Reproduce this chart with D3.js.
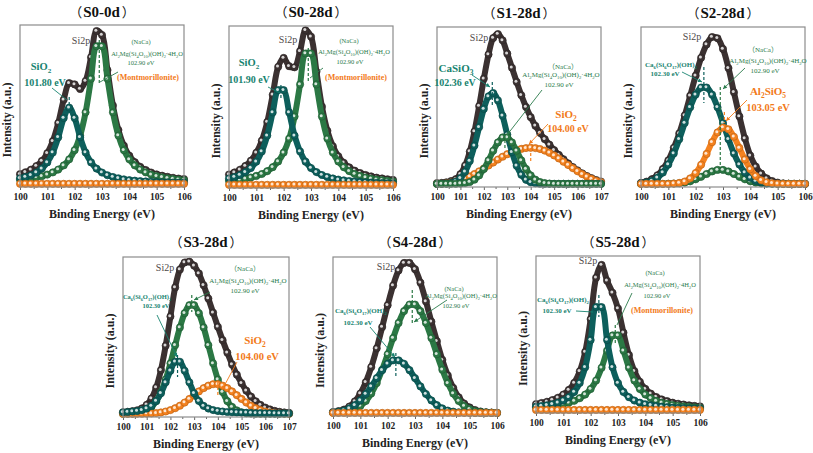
<!DOCTYPE html>
<html><head><meta charset="utf-8">
<script src="https://cdn.jsdelivr.net/npm/d3@7/dist/d3.min.js"></script>
<style>body{margin:0;background:#fff}svg{display:block}</style>
</head><body>
<svg id="c" width="813" height="453"></svg>
<script>
// ---------------- data ----------------
const energy6 = [100,100.2,100.4,100.6,100.8,101,101.2,101.4,101.6,101.8,102,102.2,102.4,102.6,102.8,103,103.2,103.4,103.6,103.8,104,104.2,104.4,104.6,104.8,105,105.2,105.4,105.6,105.8,106];
const energy7 = [100,100.2,100.4,100.6,100.8,101,101.2,101.4,101.6,101.8,102,102.2,102.4,102.6,102.8,103,103.2,103.4,103.6,103.8,104,104.2,104.4,104.6,104.8,105,105.2,105.4,105.6,105.8,106,106.2,106.4,106.6,106.8,107];
const ticks6 = [100,101,102,103,104,105,106];
const ticks7 = [100,101,102,103,104,105,106,107];
const panelNames = ['S0-0d','S0-28d','S1-28d','S2-28d','S3-28d','S4-28d','S5-28d'];

// S0-0d
const s00_env  = [0.061,0.073,0.089,0.112,0.144,0.193,0.269,0.383,0.530,0.634,0.626,0.597,0.647,0.797,0.962,0.937,0.716,0.493,0.339,0.240,0.177,0.136,0.107,0.087,0.071,0.059,0.051,0.044,0.038,0.033,0.030];
const s00_sio2 = [0.035,0.043,0.054,0.071,0.096,0.135,0.197,0.293,0.414,0.480,0.414,0.293,0.197,0.135,0.096,0.071,0.054,0.043,0.035,0.028,0.023,0.020,0.017,0.015,0.013,0.011,0.010,0.009,0.008,0.007,0.007];
const s00_mont = [0.026,0.030,0.035,0.041,0.048,0.058,0.072,0.090,0.116,0.154,0.212,0.304,0.450,0.662,0.866,0.866,0.662,0.450,0.304,0.212,0.154,0.116,0.090,0.072,0.058,0.048,0.041,0.035,0.030,0.026,0.023];
const s00_bg   = [0,0,0,0,0,0,0,0,0,0,0,0,0,0,0,0,0,0,0,0,0,0,0,0,0,0,0,0,0,0,0];
// S0-28d
const s028_env  = [0.065,0.078,0.095,0.119,0.152,0.202,0.278,0.396,0.567,0.743,0.799,0.747,0.740,0.842,0.973,0.933,0.712,0.492,0.340,0.243,0.180,0.139,0.110,0.089,0.074,0.062,0.053,0.045,0.040,0.035,0.031];
const s028_sio2 = [0.040,0.049,0.062,0.080,0.106,0.146,0.210,0.310,0.456,0.596,0.596,0.456,0.310,0.210,0.146,0.106,0.080,0.062,0.049,0.040,0.033,0.028,0.024,0.021,0.018,0.016,0.014,0.012,0.011,0.010,0.009];
const s028_mont = [0.025,0.029,0.033,0.039,0.046,0.056,0.068,0.086,0.111,0.147,0.203,0.291,0.430,0.632,0.827,0.827,0.632,0.430,0.291,0.203,0.147,0.111,0.086,0.068,0.056,0.046,0.039,0.033,0.029,0.025,0.022];
const s028_bg   = [0,0,0,0,0,0,0,0,0,0,0,0,0,0,0,0,0,0,0,0,0,0,0,0,0,0,0,0,0,0,0];
// S1-28d
const s1_env    = [0.005,0.006,0.010,0.018,0.030,0.062,0.117,0.206,0.334,0.496,0.671,0.825,0.930,0.955,0.915,0.830,0.740,0.650,0.565,0.490,0.425,0.370,0.325,0.285,0.250,0.215,0.185,0.157,0.130,0.107,0.086,0.067,0.050,0.036,0.024,0.015];
const s1_casio3 = [0,0,0.002,0.006,0.015,0.036,0.077,0.146,0.244,0.362,0.478,0.558,0.579,0.532,0.434,0.314,0.202,0.115,0.058,0.026,0.010,0.004,0.001,0,0,0,0,0,0,0,0,0,0,0,0,0];
const s1_mont   = [0,0,0,0,0,0.002,0.005,0.012,0.027,0.054,0.095,0.150,0.211,0.264,0.296,0.296,0.264,0.211,0.150,0.095,0.054,0.027,0.012,0.005,0.002,0,0,0,0,0,0,0,0,0,0,0];
const s1_sio2   = [0,0,0.003,0.008,0.015,0.024,0.035,0.048,0.063,0.080,0.098,0.117,0.136,0.155,0.173,0.189,0.203,0.215,0.223,0.228,0.230,0.228,0.222,0.212,0.198,0.181,0.162,0.141,0.120,0.100,0.080,0.062,0.046,0.032,0.020,0.011];
// S2-28d
const s2_env    = [0.006,0.014,0.030,0.055,0.095,0.150,0.230,0.322,0.436,0.562,0.690,0.804,0.889,0.936,0.928,0.860,0.738,0.584,0.430,0.290,0.180,0.110,0.065,0.035,0.018,0.008,0.003,0.001,0,0,0];
const s2_csh    = [0.004,0.009,0.019,0.039,0.072,0.123,0.194,0.285,0.388,0.488,0.569,0.614,0.614,0.569,0.488,0.388,0.285,0.194,0.123,0.072,0.039,0.019,0.009,0.004,0.002,0.001,0,0,0,0,0];
const s2_mont   = [0,0,0,0,0,0.001,0.002,0.004,0.008,0.016,0.029,0.045,0.063,0.079,0.089,0.089,0.079,0.063,0.045,0.029,0.016,0.008,0.004,0.002,0.001,0,0,0,0,0,0];
const s2_al2sio5= [0,0,0,0,0,0,0.002,0.006,0.015,0.035,0.069,0.122,0.191,0.266,0.328,0.359,0.348,0.300,0.229,0.155,0.093,0.050,0.023,0.010,0.004,0.001,0,0,0,0,0];
// S3-28d
const s3_env    = [0.010,0.013,0.017,0.023,0.035,0.058,0.098,0.168,0.279,0.435,0.621,0.806,0.920,0.965,0.970,0.945,0.895,0.820,0.735,0.645,0.555,0.470,0.390,0.315,0.250,0.195,0.148,0.110,0.080,0.057,0.040,0.028,0.019,0.013,0.009,0.007];
const s3_csh    = [0.010,0.012,0.015,0.018,0.024,0.034,0.051,0.082,0.131,0.201,0.275,0.332,0.332,0.275,0.201,0.131,0.082,0.051,0.034,0.024,0.018,0.015,0.012,0.010,0.009,0.008,0.007,0.006,0.005,0.005,0.004,0.004,0.003,0.003,0.003,0.003];
const s3_mont   = [0,0.001,0.002,0.004,0.010,0.022,0.044,0.081,0.139,0.219,0.322,0.438,0.551,0.642,0.693,0.693,0.642,0.551,0.438,0.322,0.219,0.139,0.081,0.044,0.022,0.010,0.004,0.002,0.001,0,0,0,0,0,0,0];
const s3_sio2   = [0,0,0,0.001,0.001,0.002,0.003,0.005,0.009,0.015,0.024,0.036,0.052,0.072,0.095,0.119,0.143,0.164,0.180,0.189,0.189,0.180,0.164,0.143,0.119,0.095,0.072,0.052,0.036,0.024,0.015,0.009,0.005,0.003,0.002,0.001];
// S4-28d
const s4_env    = [0.005,0.011,0.021,0.041,0.074,0.124,0.197,0.294,0.414,0.551,0.691,0.817,0.914,0.962,0.962,0.922,0.835,0.715,0.585,0.460,0.340,0.240,0.160,0.100,0.060,0.035,0.018,0.009,0.004,0.002,0];
const s4_csh    = [0.004,0.008,0.015,0.029,0.050,0.080,0.121,0.170,0.223,0.274,0.315,0.337,0.337,0.315,0.274,0.223,0.170,0.121,0.080,0.050,0.029,0.015,0.008,0.004,0.002,0.001,0,0,0,0,0];
const s4_mont   = [0.001,0.003,0.006,0.012,0.024,0.044,0.076,0.124,0.191,0.277,0.376,0.480,0.577,0.653,0.695,0.695,0.653,0.577,0.480,0.376,0.277,0.191,0.124,0.076,0.044,0.024,0.012,0.006,0.003,0.001,0];
const s4_bg     = [0,0,0,0,0,0,0,0,0,0,0,0,0,0,0,0,0,0,0,0,0,0,0,0,0,0,0,0,0,0,0];
// S5-28d
const s5_env    = [0.038,0.045,0.053,0.064,0.079,0.100,0.130,0.176,0.251,0.377,0.590,0.859,0.942,0.839,0.761,0.659,0.502,0.357,0.252,0.183,0.137,0.106,0.084,0.068,0.057,0.047,0.040,0.035,0.030,0.026,0.023];
const s5_csh    = [0.021,0.025,0.030,0.037,0.047,0.061,0.083,0.117,0.175,0.277,0.454,0.668,0.668,0.454,0.277,0.175,0.117,0.083,0.061,0.047,0.037,0.030,0.025,0.021,0.018,0.015,0.013,0.012,0.010,0.009,0.008];
const s5_mont   = [0.017,0.020,0.023,0.027,0.032,0.039,0.047,0.059,0.076,0.100,0.136,0.191,0.274,0.385,0.484,0.484,0.385,0.274,0.191,0.136,0.100,0.076,0.059,0.047,0.039,0.032,0.027,0.023,0.020,0.017,0.015];
const s5_bg     = [0,0,0,0,0,0,0,0,0,0,0,0,0,0,0,0,0,0,0,0,0,0,0,0,0,0,0,0,0,0,0];

// ---------------- styles ----------------
const COL = {env:'#3b3131', teal:'#0d5f5c', green:'#2b7844', orange:'#f5821f'};
const TXT = {teal:'#17836f', green:'#2a7b4b', orange:'#f27a1a', gray:'#4d4747'};
const SERIF = "'Liberation Serif','Times New Roman',serif";
const FORMULA = 'Al_{2}Mg(Si_{4}O_{10})(OH)_{2}·4H_{2}O';
const CSH = 'Ca_{6}(Si_{6}O_{17})(OH)_{2}';

const panels = [
 {name:panelNames[0], e:energy6, ticks:ticks6, left:20, top:25, w:164, h:162, titleY:17,
  series:[[s00_env,'env'],[s00_mont,'green'],[s00_sio2,'teal'],[s00_bg,'orange']],
  labels:[['Si2p',61,19,10,'gray',0],['(NaCa)',121,19,6.5,'green',0],[FORMULA,127,31,6.5,'green',0],['102.90 eV',121,40,6.5,'green',0],
          ['(Montmorillonite)',128,55,8,'orange',1],['SiO_{2}',21,45,10.5,'teal',1],['101.80 eV',25,61,10,'teal',1]],
  leaders:[[32,63,47,75,'teal',0],[98,47,80,57,'green',0]],
  dashes:[[101.8,72,82,'teal'],[102.9,15,60,'green']]},
 {name:panelNames[1], e:energy6, ticks:ticks6, left:229, top:26, w:164, h:162, titleY:17,
  series:[[s028_env,'env'],[s028_mont,'green'],[s028_sio2,'teal'],[s028_bg,'orange']],
  labels:[['Si2p',59,17,10,'gray',0],['(NaCa)',120,17,6.5,'green',0],[FORMULA,125,28,6.5,'green',0],['102.90 eV',121,38,6.5,'green',0],
          ['(Montmorillonite)',127,54,8,'orange',1],['SiO_{2}',20,40,10.5,'teal',1],['101.90 eV',20,57,10,'teal',1]],
  leaders:[[39,61,51,67,'teal',0],[94,42,81,52,'green',0]],
  dashes:[[101.9,59,74,'teal'],[102.9,22,57,'green']]},
 {name:panelNames[2], e:energy7, ticks:ticks7, left:437, top:27, w:164, h:160, titleY:18,
  series:[[s1_env,'env'],[s1_sio2,'orange'],[s1_casio3,'teal'],[s1_mont,'green']],
  labels:[['Si2p',42,14,10,'gray',0],['CaSiO_{3}',19,45,11,'teal',1],['102.36 eV',18,59,10,'teal',1],
          ['（NaCa）',126,42,7,'green',0],[FORMULA,124,50,7,'green',0],['102.90 eV',122,60,7,'green',0],
          ['SiO_{2}',129,91,11,'orange',1],['104.00 eV',131,105,10,'orange',1]],
  leaders:[[35,48,53,60,'teal',1],[105,63,70,108,'green',1],[111,97,92,117,'orange',1]],
  dashes:[[102.36,55,80,'teal'],[102.9,108,121,'green'],[104,121,136,'orange']]},
 {name:panelNames[3], e:energy6, ticks:ticks6, left:641, top:27, w:164, h:160, titleY:18,
  series:[[s2_env,'env'],[s2_mont,'green'],[s2_csh,'teal'],[s2_al2sio5,'orange']],
  labels:[['Si2p',51,13,10,'gray',0],[CSH,30,40,7,'teal',1],['102.30 eV',24,49,7,'teal',1],
          ['（NaCa）',122,25,7,'green',0],[FORMULA,127,36,7,'green',0],['102.90 eV',124,46,7,'green',0],
          ['Al_{2}SiO_{5}',127,68,11,'orange',1],['103.05 eV',127,84,10.5,'orange',1]],
  leaders:[[41,45,61,55,'teal',1],[104,41,82,62,'green',1],[106,73,85,94,'orange',1]],
  dashes:[[102.3,40,76,'teal'],[102.9,60,140,'green'],[103.05,85,96,'orange']]},
 {name:panelNames[4], e:energy7, ticks:ticks7, left:123, top:257, w:166, h:160, titleY:247,
  series:[[s3_env,'env'],[s3_mont,'green'],[s3_sio2,'orange'],[s3_csh,'teal']],
  labels:[['Si2p',42,14,10,'gray',0],['（NaCa）',122,14,7,'green',0],[FORMULA,125,26,7,'green',0],['102.90 eV',122,36,7,'green',0],
          [CSH,24,42,6.5,'teal',1],['102.30 eV',33,51,6.5,'teal',1],
          ['SiO_{2}',132,87,11,'orange',1],['104.00 eV',134,103,10.5,'orange',1]],
  leaders:[[87,35,71,43,'green',1],[34,58,54,100,'teal',1],[114,105,99,133,'orange',1]],
  dashes:[[102.9,38,55,'green'],[102.3,98,120,'teal'],[104,125,140,'orange']]},
 {name:panelNames[5], e:energy6, ticks:ticks6, left:333, top:257, w:164, h:159, titleY:247,
  series:[[s4_env,'env'],[s4_mont,'green'],[s4_csh,'teal'],[s4_bg,'orange']],
  labels:[['Si2p',53,13,10,'gray',0],['(NaCa)',121,34,6.5,'green',0],[FORMULA,128,41,6.5,'green',0],['102.90 eV',123,51,6.5,'green',0],
          [CSH,28,56,7,'teal',1],['102.30 eV',25,68,7,'teal',1]],
  leaders:[[114,43,81,65,'green',1],[37,70,62,100,'teal',1]],
  dashes:[[102.9,33,68,'green'],[102.3,96,121,'teal']]},
 {name:panelNames[6], e:energy6, ticks:ticks6, left:536, top:256, w:164, h:157, titleY:247,
  series:[[s5_env,'env'],[s5_mont,'green'],[s5_csh,'teal'],[s5_bg,'orange']],
  labels:[['Si2p',52,8,10,'gray',0],['(NaCa)',119,19,6.5,'green',0],[FORMULA,124,31,6.5,'green',0],['102.90 eV',121,42,6.5,'green',0],
          ['(Montmorillonite)',126,57,8,'orange',1],[CSH,27,46,7,'teal',1],['102.30 eV',21,57,7,'teal',1]],
  leaders:[[40,55,57,56,'teal',0],[96,37,81,69,'green',0]],
  dashes:[[102.3,39,61,'teal'],[102.9,69,89,'green']]}
];

// ---------------- drawing ----------------
const svg = d3.select('#c');

function rich(sel, str, size) {
  const parts = str.split(/(_\{[^}]*\})/).filter(s => s.length);
  let shifted = false;
  parts.forEach(p => {
    if (p.startsWith('_{')) {
      sel.append('tspan').attr('font-size', size * 0.68).attr('dy', size * 0.28).text(p.slice(2, -1));
      shifted = true;
    } else {
      const t = sel.append('tspan').text(p);
      if (shifted) { t.attr('dy', -size * 0.28); shifted = false; }
    }
  });
}

function arrowHead(g, x1, y1, x2, y2, color) {
  const a = Math.atan2(y2 - y1, x2 - x1), L = 4, W = 2;
  const p = [[x2, y2],
             [x2 - L * Math.cos(a) + W * Math.sin(a), y2 - L * Math.sin(a) - W * Math.cos(a)],
             [x2 - L * Math.cos(a) - W * Math.sin(a), y2 - L * Math.sin(a) + W * Math.cos(a)]];
  g.append('path').attr('d', d3.line()(p) + 'Z').attr('fill', color);
}

panels.forEach(p => {
  const g = svg.append('g');
  const x = d3.scaleLinear().domain([p.ticks[0], p.ticks[p.ticks.length - 1]]).range([p.left, p.left + p.w]);
  const y = d3.scaleLinear().domain([-0.02, 1]).range([p.top + p.h, p.top]);

  // title with full-width parentheses
  const tt = g.append('text').attr('x', p.left + p.w / 2).attr('y', p.titleY).attr('text-anchor', 'middle')
   .attr('font-family', SERIF).attr('font-weight', 'bold').attr('font-size', 15).attr('fill', '#111');
  tt.append('tspan').attr('font-family', "'Noto Sans CJK SC'").attr('font-size', 13).attr('font-weight', 'normal').text('（');
  tt.append('tspan').attr('dx', 1).text(p.name);
  tt.append('tspan').attr('dx', 2).attr('font-family', "'Noto Sans CJK SC'").attr('font-size', 13).attr('font-weight', 'normal').text('）');

  // axes
  const ax = g.append('g').attr('transform', `translate(0,${p.top + p.h})`)
    .call(d3.axisBottom(x).tickValues(p.ticks).tickFormat(d3.format('d')).tickSize(3).tickPadding(3));
  ax.select('.domain').remove();
  ax.selectAll('line').attr('stroke', '#666');
  ax.selectAll('text').attr('font-family', SERIF).attr('font-weight', 'bold').attr('font-size', 9.5).attr('fill', '#222');
  const minor = p.ticks.slice(1).map(t => t - 0.5);
  const mx = g.append('g').attr('transform', `translate(0,${p.top + p.h})`)
    .call(d3.axisBottom(x).tickValues(minor).tickFormat('').tickSize(2));
  mx.select('.domain').remove();
  mx.selectAll('line').attr('stroke', '#666');

  g.append('text').attr('x', p.left + p.w / 2).attr('y', p.top + p.h + 31).attr('text-anchor', 'middle')
   .attr('font-family', SERIF).attr('font-weight', 'bold').attr('font-size', 12).attr('fill', '#222')
   .text('Binding Energy (eV)');
  g.append('text').attr('transform', `translate(${p.left - 9},${p.top + p.h / 2 + 14}) rotate(-90)`)
   .attr('text-anchor', 'middle').attr('font-family', SERIF).attr('font-weight', 'bold')
   .attr('font-size', 12).attr('fill', '#222').text('Intensity (a.u.)');

  // series as bead chains
  const line = d3.line().x((d, i) => x(p.e[i])).y(d => y(d)).curve(d3.curveCatmullRom.alpha(0.5));
  p.series.forEach(([vals, key]) => {
    const c = COL[key];
    const sg = g.append('g');
    sg.append('path').attr('d', line(vals)).attr('fill', 'none').attr('stroke', c).attr('stroke-width', 6)
      .attr('stroke-linecap', 'round');
    const pts = vals.map((v, i) => [x(p.e[i]), y(v)]);
    const b = sg.selectAll('g.b').data(pts).join('g').attr('class', 'b');
    b.append('circle').attr('cx', d => d[0]).attr('cy', d => d[1]).attr('r', 3.6)
      .attr('fill', c).attr('stroke', d3.color(c).darker(0.7)).attr('stroke-width', 0.7);
    b.append('circle').attr('cx', d => d[0] - 0.7).attr('cy', d => d[1] - 0.7).attr('r', 1.5)
      .attr('fill', '#fff').attr('opacity', 0.8);
  });

  // frame
  g.append('rect').attr('x', p.left).attr('y', p.top).attr('width', p.w).attr('height', p.h)
   .attr('fill', 'none').attr('stroke', '#8c8c8c').attr('stroke-width', 1.2);

  // dashed peak markers
  p.dashes.forEach(([e, y1, y2, key]) => {
    g.append('line').attr('x1', x(e)).attr('x2', x(e)).attr('y1', p.top + y1).attr('y2', p.top + y2)
     .attr('stroke', COL[key]).attr('stroke-width', 1.2).attr('stroke-dasharray', '3,2');
  });
  // leaders
  p.leaders.forEach(([x1, y1, x2, y2, key, arr]) => {
    const c = TXT[key];
    g.append('line').attr('x1', p.left + x1).attr('y1', p.top + y1).attr('x2', p.left + x2).attr('y2', p.top + y2)
     .attr('stroke', c).attr('stroke-width', 0.9);
    if (arr) arrowHead(g, p.left + x1, p.top + y1, p.left + x2, p.top + y2, c);
  });
  // labels
  p.labels.forEach(([t, dx, dy, s, key, bold]) => {
    const tx = g.append('text').attr('x', p.left + dx).attr('y', p.top + dy).attr('text-anchor', 'middle')
      .attr('font-family', "'Liberation Serif','Noto Sans CJK SC',serif").attr('font-size', s)
      .attr('font-weight', bold ? 'bold' : 'normal').attr('fill', TXT[key]);
    rich(tx, t, s);
  });
});
</script>
</body></html>
